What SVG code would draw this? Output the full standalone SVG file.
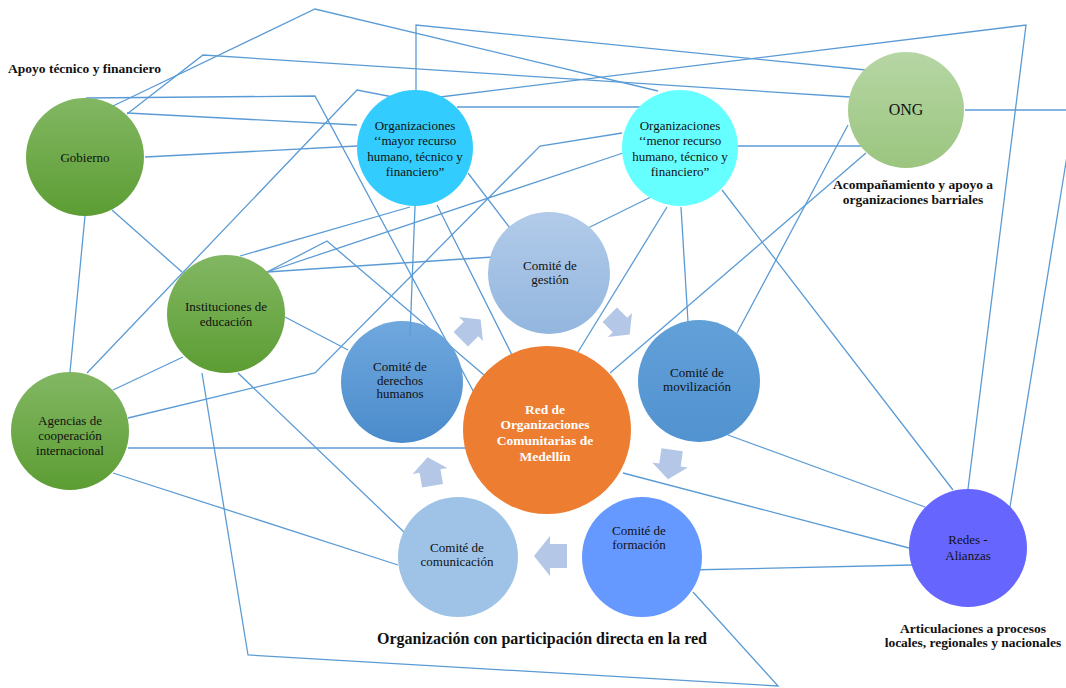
<svg xmlns="http://www.w3.org/2000/svg" width="1066" height="688" viewBox="0 0 1066 688">
<style>
.c{fill:none;stroke:#5b9bd5;stroke-width:1.3;stroke-linejoin:miter}
.t{font-family:"Liberation Serif","Times New Roman",serif;font-size:13px;fill:#111;text-anchor:middle}
.b{font-family:"Liberation Serif","Times New Roman",serif;font-weight:bold;fill:#111;font-size:13.5px;text-anchor:middle}
.w{font-family:"Liberation Serif","Times New Roman",serif;font-weight:bold;font-size:13.5px;fill:#fff;text-anchor:middle}
.a{fill:#b4c7e7}
</style>
<defs>
<linearGradient id="gG" x1="0" y1="0" x2="0" y2="1"><stop offset="0" stop-color="#82b763"/><stop offset="1" stop-color="#5c9d33"/></linearGradient>
<linearGradient id="gO" x1="0" y1="0" x2="0" y2="1"><stop offset="0" stop-color="#b6d6a4"/><stop offset="1" stop-color="#9bc57f"/></linearGradient>
<linearGradient id="gGe" x1="0" y1="0" x2="0" y2="1"><stop offset="0" stop-color="#b2cbe9"/><stop offset="1" stop-color="#93b6df"/></linearGradient>
<linearGradient id="gD" x1="0" y1="0" x2="0" y2="1"><stop offset="0" stop-color="#70a8de"/><stop offset="1" stop-color="#4a8bcb"/></linearGradient>
<linearGradient id="gM" x1="0" y1="0" x2="0" y2="1"><stop offset="0" stop-color="#62a0d8"/><stop offset="1" stop-color="#5192d0"/></linearGradient>
<polygon id="arr" points="-17,-12 0,-12 0,-20 16,0 0,20 0,12 -17,12"/>
</defs>
<rect width="1066" height="688" fill="#fff"/>
<g id="connectors">
<polyline class="c" points="113,106 315,9 658,91"/>
<polyline class="c" points="127,114 203,55 850,97"/>
<polyline class="c" points="86,98 315,96 478,400"/>
<polyline class="c" points="127,113 357,125"/>
<polyline class="c" points="145,157 357,146"/>
<polyline class="c" points="393,97 357,90 87,373"/>
<polyline class="c" points="112,210 182,272"/>
<polyline class="c" points="416,90 416,25 866,70"/>
<polyline class="c" points="440,97 1026,25 968,489"/>
<polyline class="c" points="457,107 640,107"/>
<polyline class="c" points="738,146 863,146"/>
<polyline class="c" points="965,110 1066,110"/>
<polyline class="c" points="1068,150 1010,507"/>
<polyline class="c" points="848,125 737,333"/>
<polyline class="c" points="866,153 610,373"/>
<polyline class="c" points="655,195 588,228"/>
<polyline class="c" points="667,207 578,352"/>
<polyline class="c" points="681,207 688,322"/>
<polyline class="c" points="722,190 953,490"/>
<polyline class="c" points="728,435 925,507"/>
<polyline class="c" points="623,473 909,548"/>
<polyline class="c" points="688,570 912,565"/>
<polyline class="c" points="202,373 248,655 778,686 693,592"/>
<polyline class="c" points="113,473 398,565"/>
<polyline class="c" points="128,448 467,448"/>
<polyline class="c" points="238,373 405,533"/>
<polyline class="c" points="285,317 348,350"/>
<polyline class="c" points="85,216 70,372"/>
<polyline class="c" points="128,418 315,373 540,146 622,133"/>
<polyline class="c" points="267,272 327,241 484,375"/>
<polyline class="c" points="267,272 493,257"/>
<polyline class="c" points="267,272 623,153"/>
<polyline class="c" points="240,256 410,207"/>
<polyline class="c" points="468,173 510,228"/>
<polyline class="c" points="437,205 512,355"/>
<polyline class="c" points="113,390 183,357"/>
</g>
<g id="arrows">
<use href="#arr" class="a" transform="translate(471,329) rotate(-45) scale(0.85)"/>
<use href="#arr" class="a" transform="translate(620,325) rotate(45) scale(0.85)"/>
<use href="#arr" class="a" transform="translate(670,465) rotate(98) scale(0.9)"/>
<use href="#arr" class="a" transform="translate(550,556) rotate(180)"/>
<use href="#arr" class="a" transform="translate(430,471) rotate(-100) scale(0.88)"/>
</g>
<g id="gobierno"><circle cx="85" cy="157" r="59" fill="url(#gG)"/><text class="t" x="85" y="162">Gobierno</text></g>
<g id="org-mayor"><circle cx="415" cy="148" r="58" fill="#33ccff"/>
<text class="t" x="415" y="130">Organizaciones</text><text class="t" x="415" y="145">‘‘mayor recurso</text><text class="t" x="415" y="161">humano, técnico y</text><text class="t" x="415" y="176">financiero”</text></g>
<g id="org-menor"><circle cx="680" cy="148" r="58" fill="#66ffff"/>
<text class="t" x="680" y="130">Organizaciones</text><text class="t" x="680" y="145">‘‘menor recurso</text><text class="t" x="680" y="161">humano, técnico y</text><text class="t" x="680" y="176">financiero”</text></g>
<g id="ong"><circle cx="906" cy="110" r="58" fill="url(#gO)"/><text class="t" x="906" y="115" style="font-size:16px">ONG</text></g>
<g id="instituciones"><circle cx="226" cy="314" r="59" fill="url(#gG)"/><text class="t" x="226" y="311">Instituciones de</text><text class="t" x="226" y="326">educación</text></g>
<g id="agencias"><circle cx="70" cy="431" r="59" fill="url(#gG)"/><text class="t" x="70" y="425">Agencias de</text><text class="t" x="70" y="440">cooperación</text><text class="t" x="70" y="455">internacional</text></g>
<g id="gestion"><circle cx="549" cy="273" r="61" fill="url(#gGe)"/><text class="t" x="550" y="270">Comité de</text><text class="t" x="550" y="284">gestión</text></g>
<g id="derechos"><circle cx="402" cy="382" r="61" fill="url(#gD)"/><text class="t" x="400" y="371">Comité de</text><text class="t" x="400" y="385">derechos</text><text class="t" x="400" y="398">humanos</text></g>
<polyline class="c" points="415,206 410,336"/>
<g id="red"><circle cx="547" cy="430" r="84" fill="#ed7d31"/><text class="w" x="545" y="414">Red de</text><text class="w" x="545" y="429">Organizaciones</text><text class="w" x="545" y="445">Comunitarias de</text><text class="w" x="545" y="461">Medellín</text></g>
<g id="movilizacion"><circle cx="699" cy="381" r="61" fill="url(#gM)"/><text class="t" x="697" y="377">Comité de</text><text class="t" x="697" y="391">movilización</text></g>
<g id="comunicacion"><circle cx="458" cy="557" r="60" fill="#9fc3e7"/><text class="t" x="457" y="552">Comité de</text><text class="t" x="457" y="566">comunicación</text></g>
<g id="formacion"><circle cx="642" cy="557" r="60" fill="#6699ff"/><text class="t" x="639" y="535">Comité de</text><text class="t" x="639" y="549">formación</text></g>
<g id="redes"><circle cx="968" cy="548" r="59" fill="#6666ff"/><text class="t" x="968" y="544">Redes -</text><text class="t" x="968" y="560">Alianzas</text></g>
<g id="labels">
<text class="b" x="8" y="73" style="text-anchor:start">Apoyo técnico y financiero</text>
<text class="b" x="913" y="189">Acompañamiento y apoyo a</text>
<text class="b" x="913" y="204">organizaciones barriales</text>
<text class="b" x="973" y="633">Articulaciones a procesos</text>
<text class="b" x="973" y="647">locales, regionales y nacionales</text>
<text class="b" x="542" y="644" style="font-size:16px">Organización con participación directa en la red</text>
</g>
</svg>
